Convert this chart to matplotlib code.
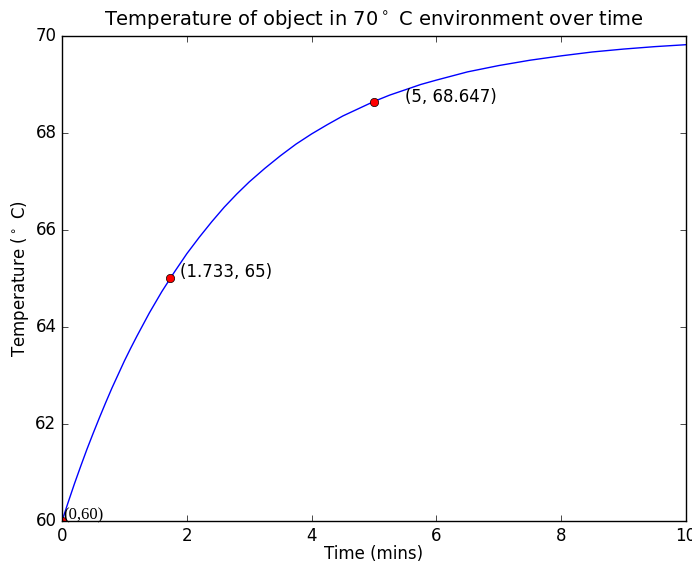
import matplotlib
matplotlib.use("Agg")
import matplotlib.pyplot as plt

# Temperature readings estimated from the curve
times = [0, 0.1, 0.2, 0.3, 0.4, 0.5, 0.6, 0.7, 0.8, 0.9, 1.0, 1.1, 1.2, 1.3,
         1.4, 1.5, 1.6, 1.7, 1.8, 1.9, 2.0, 2.2, 2.4, 2.6, 2.8, 3.0, 3.25,
         3.5, 3.75, 4.0, 4.25, 4.5, 4.75, 5.0, 5.25, 5.5, 5.75, 6.0, 6.5,
         7.0, 7.5, 8.0, 8.5, 9.0, 9.5, 10.0]
temps = [60.00, 60.39, 60.77, 61.13, 61.48, 61.81, 62.13, 62.44, 62.74, 63.02,
         63.30, 63.56, 63.81, 64.05, 64.29, 64.51, 64.73, 64.93, 65.13, 65.32,
         65.51, 65.85, 66.17, 66.47, 66.74, 66.99, 67.27, 67.53, 67.77, 67.98,
         68.17, 68.35, 68.50, 68.65, 68.78, 68.89, 69.00, 69.09, 69.26, 69.39,
         69.50, 69.59, 69.67, 69.73, 69.78, 69.82]

# Highlighted points
point_t = [0, 1.733, 5]
point_T = [60, 65, 68.647]
point_labels = ["(0,60)", "(1.733, 65)", "(5, 68.647)"]

plt.style.use("classic")
plt.rcParams["mathtext.fontset"] = "dejavusans"
plt.rcParams["font.size"] = 12

fig = plt.figure(figsize=(6.92, 5.62), dpi=100, facecolor="white")
ax = fig.add_axes([0.0896, 0.073, 0.9017, 0.863])

ax.plot(times, temps, color="blue", linewidth=1)
ax.plot(point_t, point_T, "o", color="red", markersize=6,
        markeredgecolor="black", markeredgewidth=0.5)

# Label the points
ax.annotate(point_labels[0], (point_t[0], point_T[0]), xytext=(1, 1),
            textcoords="offset points", family="Liberation Serif", fontsize=12)
ax.annotate(point_labels[1], (point_t[1], point_T[1]), xytext=(7, 1),
            textcoords="offset points", fontsize=12)
ax.annotate(point_labels[2], (point_t[2], point_T[2]), xytext=(22, -0.5),
            textcoords="offset points", fontsize=12)

ax.set_xlim(0, 10)
ax.set_ylim(60, 70)
ax.set_title("Temperature of object in 70$^\\circ$ C environment over time",
             fontsize=14, pad=8)
ax.set_xlabel("Time (mins)", labelpad=0)
ax.set_ylabel("Temperature ($^\\circ$ C)", labelpad=3)

fig.savefig("out.png", dpi=100, facecolor="white")
